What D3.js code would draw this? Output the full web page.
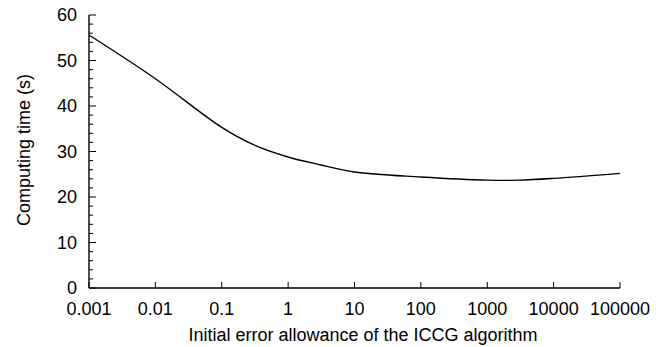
<!DOCTYPE html>
<html><head><meta charset="utf-8">
<script src="https://cdn.jsdelivr.net/npm/d3@7"></script>
<style>body{margin:0;background:#fff}svg{display:block}text{font-family:"Liberation Sans",Arial,sans-serif;fill:#000}</style>
</head><body>
<script>
const xVals = [0.001, 0.01, 0.1, 0.3, 1, 3, 10, 100, 1000, 3000, 10000, 100000];
const yVals = [55.6, 46.0, 35.3, 31.5, 28.8, 27.1, 25.5, 24.4, 23.7, 23.7, 24.1, 25.2];
const xTicks = [0.001, 0.01, 0.1, 1, 10, 100, 1000, 10000, 100000];
const xTickLabels = ["0.001", "0.01", "0.1", "1", "10", "100", "1000", "10000", "100000"];
const yTicks = [0, 10, 20, 30, 40, 50, 60];
const yMinorTicks = d3.range(0, 61, 2);

const W = 662, H = 347;
const svg = d3.select("body").append("svg").attr("width", W).attr("height", H);
const x = d3.scaleLog().domain([0.001, 100000]).range([89, 620]);
const y = d3.scaleLinear().domain([0, 60]).range([288, 15]);

// y axis
const gy = svg.append("g").attr("transform", "translate(89,0)");
gy.append("line").attr("x1", 0).attr("x2", 0).attr("y1", y(60)).attr("y2", y(0)).attr("stroke", "#000").attr("stroke-width", 1.4);
gy.selectAll(".mn").data(yMinorTicks).join("line")
  .attr("x1", 0).attr("x2", d => d % 10 === 0 ? 7 : 4)
  .attr("y1", d => y(d)).attr("y2", d => y(d)).attr("stroke", "#000").attr("stroke-width", 1);
gy.selectAll("text").data(yTicks).join("text")
  .attr("x", -12).attr("y", d => y(d)).attr("dy", "0.36em").attr("text-anchor", "end")
  .attr("font-size", 18).text(d => d);

// x axis
const gx = svg.append("g").attr("transform", "translate(0,288)");
gx.append("line").attr("x1", x(0.001)).attr("x2", x(100000)).attr("y1", 0).attr("y2", 0).attr("stroke", "#000").attr("stroke-width", 1.4);
gx.selectAll(".t").data(xTicks).join("line")
  .attr("x1", d => x(d)).attr("x2", d => x(d)).attr("y1", 0).attr("y2", -6).attr("stroke", "#000").attr("stroke-width", 1);
gx.selectAll("text").data(xTicks).join("text")
  .attr("x", d => x(d)).attr("y", 27).attr("text-anchor", "middle")
  .attr("font-size", 18).text((d, i) => xTickLabels[i]);

// labels
svg.append("text").attr("x", 363).attr("y", 341).attr("text-anchor", "middle").attr("font-size", 18)
  .text("Initial error allowance of the ICCG algorithm");
svg.append("text").attr("transform", "translate(30,150) rotate(-90)").attr("text-anchor", "middle").attr("font-size", 18)
  .text("Computing time (s)");

// curve
const data = xVals.map((v, i) => [v, yVals[i]]);
svg.append("path").datum(data)
  .attr("d", d3.line().x(d => x(d[0])).y(d => y(d[1])).curve(d3.curveCatmullRom.alpha(0.5)))
  .attr("fill", "none").attr("stroke", "#000").attr("stroke-width", 1.4);
</script>
</body></html>
